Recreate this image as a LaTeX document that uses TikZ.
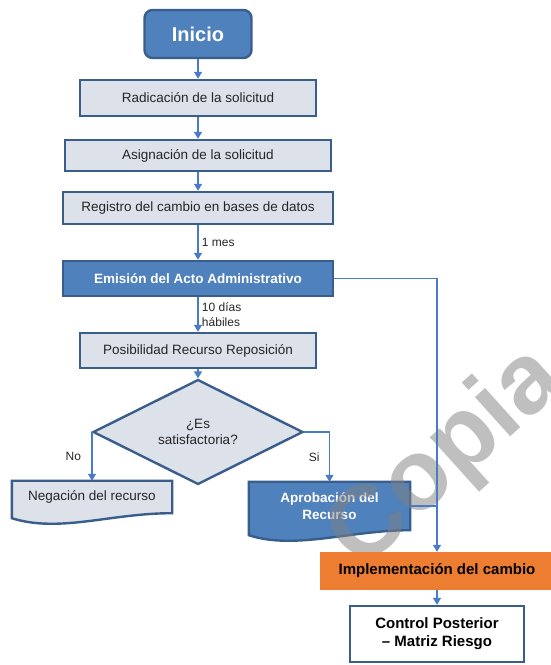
\documentclass[tikz,border=0pt]{standalone}
\usepackage{fontspec}
\setmainfont{Liberation Sans}
\usetikzlibrary{shapes.geometric, arrows.meta}
\usetikzlibrary{positioning, backgrounds}
\definecolor{boxfill}{HTML}{DCE1EA}
\definecolor{boxline}{HTML}{3A5E8C}
\definecolor{bluefill}{HTML}{4F81BD}
\definecolor{arrowblue}{HTML}{4A7BC6}
\definecolor{implorange}{HTML}{ED7D31}
\definecolor{textgray}{HTML}{262626}
\tikzstyle{start} = [rectangle, rounded corners=8pt, minimum width=107pt, minimum height=48pt, draw=boxline, line width=2.4pt, fill=bluefill, text=white, font=\bfseries\fontsize{20}{24}\selectfont]
\tikzstyle{process} = [rectangle, text centered, draw=boxline, line width=2.4pt, fill=boxfill, text=textgray, font=\fontsize{13.5}{16}\selectfont]
\tikzstyle{emphasis} = [process, fill=bluefill, text=white, font=\bfseries\fontsize{13.5}{16}\selectfont]
\tikzstyle{decision} = [diamond, minimum width=210pt, minimum height=90pt, inner sep=0pt, align=center, draw=boxline, line width=2.4pt, fill=boxfill, text=textgray, font=\fontsize{13.5}{16}\selectfont]
\tikzstyle{docshape} = [rectangle, align=center, text=textgray, font=\fontsize{13.5}{17}\selectfont]
\tikzstyle{docline} = [draw=boxline, line width=2.4pt]
\tikzstyle{result} = [rectangle, align=center, text=black, font=\bfseries\fontsize{15}{18}\selectfont]
\tikzstyle{watermark} = [rotate=42, text=gray, text opacity=0.5, font=\bfseries\fontsize{100}{100}\selectfont]
\tikzstyle{arrow} = [line width=1.3pt, draw=arrowblue, -{Triangle[width=8pt,length=7pt]}]
\tikzstyle{link} = [line width=1.3pt, draw=arrowblue]
\tikzstyle{arrowtext} = [text=textgray, font=\fontsize{12}{15}\selectfont]

\begin{document}
\begin{tikzpicture}[x=1pt, y=1pt]
 \useasboundingbox (0,0) rectangle (550,665);

 \node (inicio) [start] at (198,631) {Inicio};
 \node (radicacion) [process, below of=inicio, node distance=64pt, minimum width=236pt, minimum height=36pt] {Radicación de la solicitud};
 \node (asignacion) [process, below of=radicacion, node distance=57.5pt, minimum width=266pt, minimum height=31pt] {Asignación de la solicitud};
 \node (registro) [process, below of=asignacion, node distance=52.5pt, minimum width=270pt, minimum height=32pt] {Registro del cambio en bases de datos};
 \node (emision) [emphasis, below of=registro, node distance=70.5pt, minimum width=270pt, minimum height=35pt] {Emisión del Acto Administrativo};
 \node (posibilidad) [process, below of=emision, node distance=72pt, minimum width=236pt, minimum height=35pt] {Posibilidad Recurso Reposición};
 \node (satisfactoria) [decision, below of=posibilidad, node distance=81.5pt] {¿Es\\satisfactoria?};
 \node (negacion) [docshape, minimum width=160pt, minimum height=32pt] at (92,168) {Negación del recurso};
 \node (aprobacion) [docshape, text=white, font=\bfseries\fontsize{13.5}{17}\selectfont, minimum width=161pt, minimum height=48pt] at (329.5,159) {Aprobación del\\Recurso};

 % wavy document outlines
 \begin{scope}[on background layer]
  \filldraw [docline, fill=boxfill] (negacion.north west) -- (negacion.north east) -- (negacion.south east) .. controls +(-62,0) and +(48,-15) .. ([yshift=-5pt]negacion.south west) -- cycle;
  \filldraw [docline, fill=bluefill] (aprobacion.north west) -- (aprobacion.north east) -- (aprobacion.south east) .. controls +(-60,0) and +(46,-15) .. ([yshift=-5pt]aprobacion.south west) -- cycle;
 \end{scope}

 \node (marca) [watermark] at (447,206) {Copia};

 \node (implementacion) [result, fill=implorange, minimum width=234pt, minimum height=38pt] at (437,94) {Implementación del cambio};
 \node (control) [result, below of=implementacion, node distance=63pt, draw=boxline, line width=2.4pt, fill=white, minimum width=174pt, minimum height=56pt] {Control Posterior\\– Matriz Riesgo};

 \draw [arrow] (inicio) -- (radicacion);
 \draw [arrow] (radicacion) -- (asignacion);
 \draw [arrow] (asignacion) -- (registro);
 \draw [arrow] (registro) -- node[arrowtext, right] {1 mes} (emision);
 \draw [arrow] (emision) -- node[arrowtext, right, align=left] {10 días\\hábiles} (posibilidad);
 \draw [arrow] (posibilidad) -- (satisfactoria);
 \draw [arrow] (satisfactoria.west) -| node[arrowtext, pos=0.75, left=7pt] {No} (negacion.north);
 \draw [arrow] (satisfactoria.east) -| node[arrowtext, pos=0.75, left=6pt] {Si} (aprobacion.north);
 \draw [arrow] (emision.east) -| (implementacion.north);
 \draw [link] (aprobacion.east) -- (aprobacion.east -| implementacion.north);
 \draw [arrow] (implementacion) -- (control);
\end{tikzpicture}
\end{document}
